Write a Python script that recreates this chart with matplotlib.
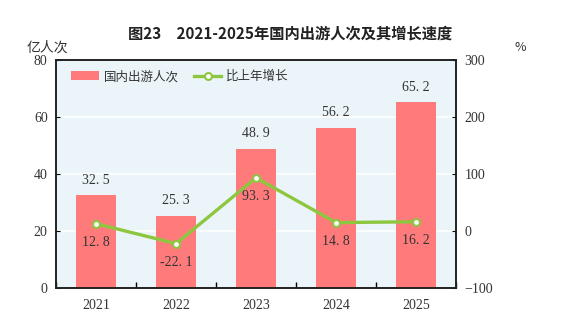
import matplotlib.pyplot as plt
import numpy as np

plt.rcParams['font.family'] = ['Noto Sans CJK SC', 'DejaVu Sans']

years = ["2021", "2022", "2023", "2024", "2025"]
trips = [32.5, 25.3, 48.9, 56.2, 65.2]
growth = [12.8, -22.1, 93.3, 14.8, 16.2]

bar_color = "#FF7B7B"
line_color = "#8DC63F"
serif = "Liberation Serif"

fig = plt.figure(figsize=(5.8, 3.32), dpi=100)
ax = fig.add_axes([0.0966, 0.1325, 0.6897, 0.6867])
ax.set_facecolor("#EBF5F9")
x = np.arange(len(years))

ax.bar(x, trips, width=0.5, color=bar_color, zorder=2, label="国内出游人次")
ax.set_xlim(-0.5, 4.5)
ax.set_ylim(0, 80)
ax.set_yticks([0, 20, 40, 60, 80])
for y in [20, 40, 60]:
    ax.axhline(y, color="white", lw=1.2, zorder=1)

for xi, v in zip(x, trips):
    ax.text(xi, v + 3, f"{v:.1f}".replace(".", ". "), ha="center", va="bottom",
            fontsize=10, family=serif, color="#333333")

ax2 = ax.twinx()
ax2.set_ylim(-100, 300)
ax2.set_yticks([-100, 0, 100, 200, 300])
ax2.plot(x, growth, color=line_color, lw=2.4, marker="o", markersize=5,
         markerfacecolor="white", markeredgecolor=line_color, markeredgewidth=1.5,
         zorder=3, label="比上年增长")
for xi, v in zip(x, growth):
    ax2.text(xi, v - 21, f"{v:.1f}".replace(".", ". "), ha="center", va="top",
             fontsize=10, family=serif, color="#333333")

ax.set_xticks(x)
ax.set_xticklabels(years)
ax.set_xticks(np.arange(-0.5, 5, 1), minor=True)
ax.tick_params(axis="x", which="major", length=0, pad=8)
ax.tick_params(axis="x", which="minor", direction="in", length=4, width=1)
ax.tick_params(axis="y", direction="in", length=3, pad=6)
ax2.tick_params(axis="y", direction="in", length=3, pad=6)
for a in (ax, ax2):
    for lab in a.get_xticklabels() + a.get_yticklabels():
        lab.set_family(serif)
        lab.set_fontsize(10)
        lab.set_color("#333333")
    for s in a.spines.values():
        s.set_linewidth(1.2)
        s.set_color("#222222")

h1, l1 = ax.get_legend_handles_labels()
h2, l2 = ax2.get_legend_handles_labels()
leg = ax.legend(h1 + h2, l1 + l2, loc="upper left", ncol=2, frameon=False,
                fontsize=9, bbox_to_anchor=(0.01, 1.005), handlelength=2.2,
                columnspacing=1.2, handletextpad=0.4)
for t in leg.get_texts():
    t.set_color("#333333")

fig.text(0.5, 0.885, "图23　2021-2025年国内出游人次及其增长速度", ha="center",
         fontsize=11, fontweight="bold", color="#222222")
fig.text(0.082, 0.845, "亿人次", ha="center", fontsize=10, color="#333333")
fig.text(0.897, 0.845, "%", ha="center", fontsize=9, color="#333333")

fig.savefig("out.png")
